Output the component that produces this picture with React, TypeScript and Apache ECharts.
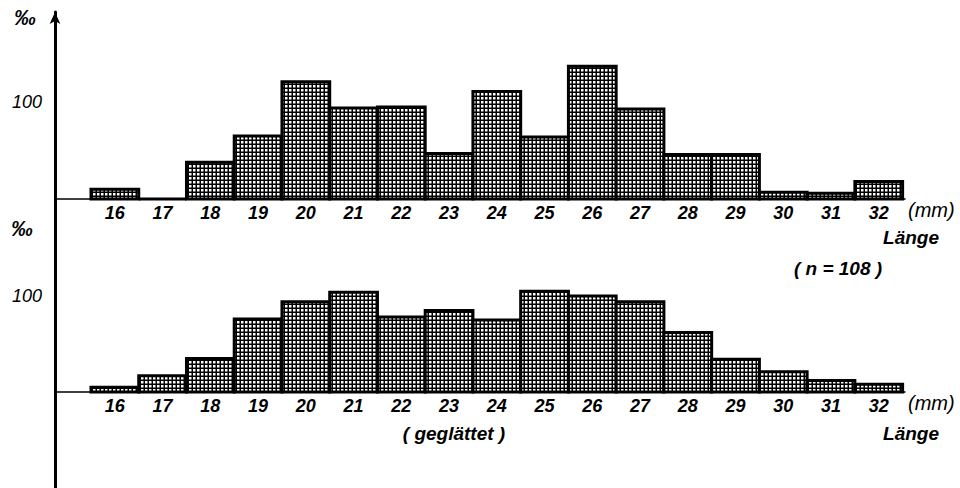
import React, { useEffect, useRef } from "react";
import * as echarts from "echarts";

// Length classes (mm)
const lengths = [16, 17, 18, 19, 20, 21, 22, 23, 24, 25, 26, 27, 28, 29, 30, 31, 32];
// Top histogram, per mille (n = 108)
const rawValues = [10, 0, 38, 65, 121, 94, 95, 47, 111, 64, 137, 93, 46, 46, 7, 6, 18];
// Bottom histogram, smoothed, per mille
const smoothValues = [5, 17, 35, 76, 94, 104, 78, 85, 75, 105, 100, 94, 62, 34, 21, 12, 8];
const yTickLabels = [100];

const FONT = "'Liberation Sans', Arial, sans-serif";

export default function App() {
  const ref = useRef<HTMLDivElement>(null);

  useEffect(() => {
    if (!ref.current) return;
    const chart = echarts.init(ref.current, null, { renderer: "svg" });

    const cv = document.createElement("canvas");
    cv.width = 8;
    cv.height = 8;
    const ctx = cv.getContext("2d")!;
    ctx.fillStyle = "#000";
    ctx.fillRect(0, 0, 8, 8);
    ctx.fillStyle = "#fff";
    ctx.fillRect(2, 2, 5, 5);
    const pattern: any = { image: cv, repeat: "repeat", scaleX: 0.5, scaleY: 0.5 };

    const renderItem = (params: any, api: any) => {
      const x = api.value(0);
      const y = api.value(1);
      const p0 = api.coord([x - 0.5, y]);
      const p1 = api.coord([x + 0.5, 0]);
      return {
        type: "rect",
        shape: { x: p0[0], y: p0[1], width: p1[0] - p0[0], height: p1[1] - p0[1] },
        style: { fill: pattern, stroke: "#000", lineWidth: 3 },
      };
    };

    const xAxisBase = (gridIndex: number) => ({
      type: "value",
      gridIndex,
      min: 14.746,
      max: 32.55,
      minInterval: 1,
      maxInterval: 1,
      splitNumber: 18,
      name: "(mm)",
      nameLocation: "end",
      nameGap: 3,
      nameTextStyle: {
        fontFamily: FONT,
        fontStyle: "italic",
        fontSize: 20,
        color: "#000",
        verticalAlign: "top",
        padding: [1, 0, 0, 0],
      },
      axisLine: { show: true, lineStyle: { color: "#000", width: 1.5 } },
      axisTick: { show: false },
      splitLine: { show: false },
      axisLabel: {
        margin: 5,
        fontFamily: FONT,
        fontStyle: "italic",
        fontWeight: "bold",
        fontSize: 18,
        color: "#000",
        showMinLabel: true,
        showMaxLabel: true,
        formatter: (v: number) =>
          Number.isInteger(v) && lengths.indexOf(v) >= 0 ? String(v) : "",
      },
    });

    const yLabel = {
      margin: 13,
      fontFamily: FONT,
      fontStyle: "italic",
      fontSize: 18,
      color: "#000",
      formatter: (v: number) => (yTickLabels.indexOf(v) >= 0 ? String(v) : ""),
    };

    const txt = (text: string, x: number, y: number, opts: any = {}) => ({
      type: "text",
      x,
      y,
      style: {
        text,
        fontFamily: FONT,
        fontStyle: "italic",
        fontWeight: "bold",
        fontSize: 18,
        fill: "#000",
        textAlign: "center",
        textVerticalAlign: "middle",
        ...opts,
      },
    });

    chart.setOption({
      animation: false,
      backgroundColor: "#fff",
      grid: [
        { left: 55, right: 55, top: 12, height: 187 },
        { left: 55, right: 55, top: 199, height: 193 },
        { left: 55, right: 55, top: 392, height: 96 },
      ],
      xAxis: [
        xAxisBase(0),
        xAxisBase(1),
        { type: "value", gridIndex: 2, show: false, min: 0, max: 1 },
      ],
      yAxis: [
        {
          type: "value",
          gridIndex: 0,
          min: 0,
          max: 193,
          interval: 100,
          axisLine: {
            show: true,
            symbol: ["none", "arrow"],
            symbolSize: [8, 12],
            lineStyle: { color: "#000", width: 3 },
          },
          axisTick: { show: false },
          splitLine: { show: false },
          axisLabel: yLabel,
        },
        {
          type: "value",
          gridIndex: 1,
          min: 0,
          max: 201,
          interval: 100,
          axisLine: { show: true, lineStyle: { color: "#000", width: 3 } },
          axisTick: { show: false },
          splitLine: { show: false },
          axisLabel: yLabel,
        },
        {
          type: "value",
          gridIndex: 2,
          min: 0,
          max: 1,
          axisLine: { show: true, lineStyle: { color: "#000", width: 3 } },
          axisTick: { show: false },
          splitLine: { show: false },
          axisLabel: { show: false },
        },
      ],
      series: [
        {
          type: "custom",
          xAxisIndex: 0,
          yAxisIndex: 0,
          renderItem,
          data: lengths.map((l, i) => [l, rawValues[i]]),
        },
        {
          type: "custom",
          xAxisIndex: 1,
          yAxisIndex: 1,
          renderItem,
          data: lengths.map((l, i) => [l, smoothValues[i]]),
        },
      ],
      graphic: [
        txt("‰", 25, 17, { fontSize: 22 }),
        txt("‰", 22, 228, { fontSize: 22 }),
        txt("Länge", 911, 237, { fontSize: 19 }),
        txt("Länge", 911, 433, { fontSize: 19 }),
        txt("( n = 108 )", 838, 268, { fontSize: 19 }),
        txt("( geglättet )", 454, 433, { fontSize: 19 }),
      ],
    });

    return () => chart.dispose();
  }, []);

  return <div ref={ref} style={{ width: 960, height: 488, position: "absolute", left: 0, top: 0 }} />;
}
